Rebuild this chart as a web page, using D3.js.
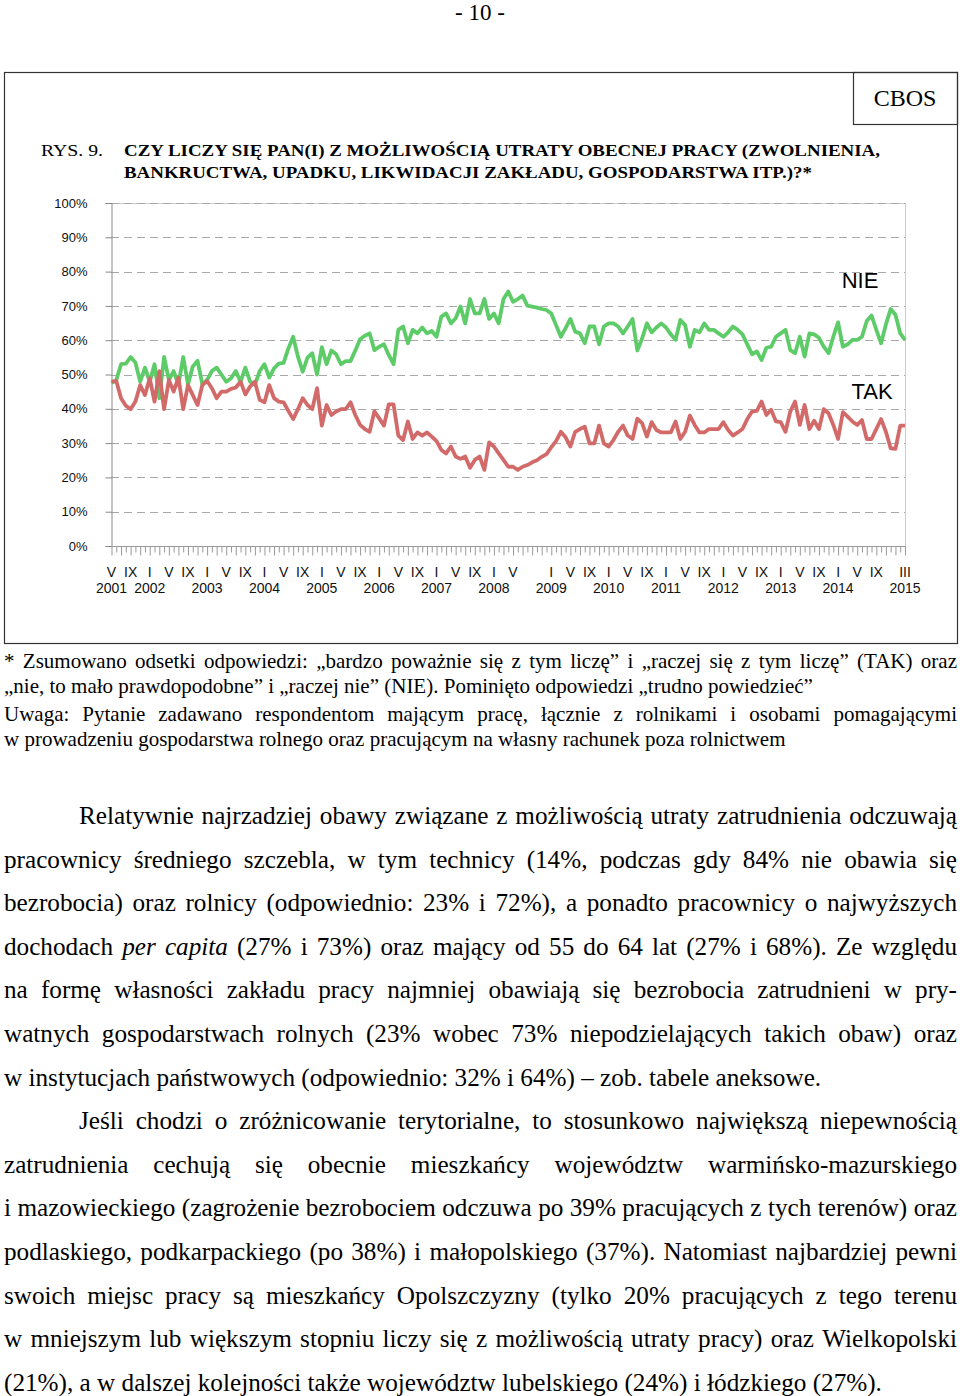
<!DOCTYPE html>
<html><head><meta charset="utf-8">
<script src="https://cdn.jsdelivr.net/npm/d3@7"></script>
<style>
html,body{margin:0;padding:0;background:#fff;}
svg{display:block;}
</style></head>
<body>
<svg id="page" width="960" height="1396"></svg>
<script>
// ---------- DATA ----------
const startYear = 2001, startMonth = 5; // first survey: V 2001
const nie = [47.5,48.4,53.0,53.2,55.1,53.5,47.9,52.0,47.9,53.0,43.1,55.1,48.4,51.0,47.0,55.1,47.1,52.3,54.0,47.1,
48.4,51.0,52.0,50.0,47.9,48.9,51.0,47.9,52.0,47.9,47.0,51.0,53.0,49.1,51.8,53.2,53.4,57.6,61.0,55.2,
50.8,54.9,56.2,50.0,58.0,53.0,57.0,55.9,53.0,53.9,53.9,57.0,60.3,61.3,62.0,57.1,58.1,58.8,55.7,53.0,
63.0,64.0,59.1,63.0,62.0,63.7,62.0,62.7,61.0,66.9,67.8,64.9,66.4,69.8,64.9,72.0,67.8,67.8,72.0,66.2,
67.8,64.9,72.0,74.2,71.2,72.0,73.0,70.1,69.8,69.5,69.1,68.8,67.8,64.4,61.0,63.5,66.2,62.5,62.0,59.1,
64.0,64.0,58.8,64.0,64.9,64.9,64.0,62.0,64.0,66.2,57.0,60.5,64.9,62.3,63.7,64.9,63.7,61.7,60.1,65.9,
64.4,58.1,63.0,62.3,64.9,63.0,63.0,62.0,61.0,62.3,64.0,63.0,61.7,58.8,55.9,56.7,54.2,57.8,58.1,61.0,
62.0,63.0,57.1,56.2,61.0,55.2,62.0,61.7,60.7,58.1,56.2,61.0,65.2,58.1,58.8,60.1,60.1,61.0,65.6,67.2,
63.0,59.1,64.6,69.1,67.4,62.0,60.1];
const tak = [47.9,48.1,43.1,40.9,39.9,42.1,46.9,44.0,48.9,42.1,51.0,39.9,48.4,45.0,49.1,39.9,46.9,44.0,41.1,46.9,
48.1,46.0,43.1,45.0,45.0,45.8,46.2,47.9,44.2,46.5,47.9,42.6,41.9,46.9,43.1,42.1,41.9,39.4,37.0,39.9,
43.1,41.1,39.9,46.0,35.1,41.1,38.2,39.2,39.9,39.9,41.9,38.2,35.3,34.1,33.3,39.3,37.2,35.1,41.3,41.3,
32.2,30.9,36.3,31.2,33.1,32.2,33.1,31.9,30.6,28.0,27.0,29.0,26.1,25.4,26.1,22.8,25.1,26.1,22.2,30.2,
29.0,27.0,25.1,23.1,23.1,22.2,23.1,23.6,24.4,25.0,26.0,26.8,28.8,30.6,33.3,31.7,29.0,33.3,34.1,34.8,
29.9,29.9,35.1,29.9,29.0,30.9,33.3,35.1,32.2,31.2,37.1,35.8,31.9,36.1,33.8,33.1,33.1,33.1,36.3,31.2,
33.3,38.0,35.3,33.1,33.1,34.1,34.1,34.1,36.1,33.8,32.2,33.1,34.1,37.0,39.2,39.4,42.1,38.2,39.7,36.3,
36.1,33.3,39.2,42.1,35.3,41.1,34.1,36.5,34.1,39.9,38.7,35.3,31.2,39.0,37.7,36.3,35.3,36.7,31.2,31.2,
34.1,37.0,33.3,28.5,28.3,35.1,35.1];
// month labels (index = months since V 2001)
const monthLabels = [[0,"V"],[4,"IX"],[8,"I"],[12,"V"],[16,"IX"],[20,"I"],[24,"V"],[28,"IX"],[32,"I"],[36,"V"],[40,"IX"],
[44,"I"],[48,"V"],[52,"IX"],[56,"I"],[60,"V"],[64,"IX"],[68,"I"],[72,"V"],[76,"IX"],[80,"I"],[84,"V"],
[92,"I"],[96,"V"],[100,"IX"],[104,"I"],[108,"V"],[112,"IX"],[116,"I"],[120,"V"],[124,"IX"],[128,"I"],[132,"V"],[136,"IX"],
[140,"I"],[144,"V"],[148,"IX"],[152,"I"],[156,"V"],[160,"IX"],[166,"III"]];
const yearLabels = [[0,"2001"],[8,"2002"],[20,"2003"],[32,"2004"],[44,"2005"],[56,"2006"],[68,"2007"],[80,"2008"],
[92,"2009"],[104,"2010"],[116,"2011"],[128,"2012"],[140,"2013"],[152,"2014"],[166,"2015"]];
const yTicks = [0,10,20,30,40,50,60,70,80,90,100];

const titleLines = ["CZY LICZY SIĘ PAN(I) Z MOŻLIWOŚCIĄ UTRATY OBECNEJ PRACY (ZWOLNIENIA,",
"BANKRUCTWA, UPADKU, LIKWIDACJI ZAKŁADU, GOSPODARSTWA ITP.)?*"];
const footLines = [
 ["* Zsumowano odsetki odpowiedzi: „bardzo poważnie się z tym liczę” i „raczej się z tym liczę” (TAK) oraz", true],
 ["„nie, to mało prawdopodobne” i „raczej nie” (NIE). Pominięto odpowiedzi „trudno powiedzieć”", false],
 ["Uwaga: Pytanie zadawano respondentom mającym pracę, łącznie z rolnikami i osobami pomagającymi", true],
 ["w prowadzeniu gospodarstwa rolnego oraz pracującym na własny rachunek poza rolnictwem", false]];
const bodyLines = [
 ["Relatywnie najrzadziej obawy związane z możliwością utraty zatrudnienia odczuwają", true, true],
 ["pracownicy średniego szczebla, w tym technicy (14%, podczas gdy 84% nie obawia się", true, false],
 ["bezrobocia) oraz rolnicy (odpowiednio: 23% i 72%), a ponadto pracownicy o najwyższych", true, false],
 ["dochodach ~per ~capita (27% i 73%) oraz mający od 55 do 64 lat (27% i 68%). Ze względu", true, false],
 ["na formę własności zakładu pracy najmniej obawiają się bezrobocia zatrudnieni w pry-", true, false],
 ["watnych gospodarstwach rolnych (23% wobec 73% niepodzielających takich obaw) oraz", true, false],
 ["w instytucjach państwowych (odpowiednio: 32% i 64%) – zob. tabele aneksowe.", false, false],
 ["Jeśli chodzi o zróżnicowanie terytorialne, to stosunkowo największą niepewnością", true, true],
 ["zatrudnienia cechują się obecnie mieszkańcy województw warmińsko-mazurskiego", true, false],
 ["i mazowieckiego (zagrożenie bezrobociem odczuwa po 39% pracujących z tych terenów) oraz", true, false],
 ["podlaskiego, podkarpackiego (po 38%) i małopolskiego (37%). Natomiast najbardziej pewni", true, false],
 ["swoich miejsc pracy są mieszkańcy Opolszczyzny (tylko 20% pracujących z tego terenu", true, false],
 ["w mniejszym lub większym stopniu liczy się z możliwością utraty pracy) oraz Wielkopolski", true, false],
 ["(21%), a w dalszej kolejności także województw lubelskiego (24%) i łódzkiego (27%).", false, false]];

// ---------- DRAW ----------
const svg = d3.select("#page");
const SERIF = "'Liberation Serif','Times New Roman',serif";
const SANS = "'Liberation Sans',Arial,sans-serif";

svg.append("text").attr("x",480).attr("y",20).attr("text-anchor","middle")
  .style("font-family",SERIF).style("font-size","23px").text("- 10 -");

// frame
svg.append("rect").attr("x",4.5).attr("y",72.5).attr("width",953).attr("height",571)
  .attr("fill","none").attr("stroke","#333").attr("stroke-width",1.2);
svg.append("rect").attr("x",853.5).attr("y",72.5).attr("width",104).attr("height",52)
  .attr("fill","none").attr("stroke","#333").attr("stroke-width",1.2);
svg.append("text").attr("x",905).attr("y",106).attr("text-anchor","middle")
  .style("font-family",SERIF).style("font-size","24px").text("CBOS");

svg.append("text").attr("x",41).attr("y",156).style("font-family",SERIF).style("font-size","17px")
  .attr("textLength",62).attr("lengthAdjust","spacingAndGlyphs").text("RYS. 9.");
svg.append("text").attr("x",124).attr("y",156).style("font-family",SERIF).style("font-size","17px")
  .style("font-weight","bold").attr("textLength",756).attr("lengthAdjust","spacingAndGlyphs").text(titleLines[0]);
svg.append("text").attr("x",124).attr("y",178).style("font-family",SERIF).style("font-size","17px")
  .style("font-weight","bold").attr("textLength",688).attr("lengthAdjust","spacingAndGlyphs").text(titleLines[1]);

// chart
const x = d3.scaleLinear().domain([0,166]).range([111.5,905]);
const y = d3.scaleLinear().domain([0,100]).range([546,203]);
const chart = svg.append("g");

// plot border (light)
chart.append("line").attr("x1",111).attr("x2",905.5).attr("y1",203.5).attr("y2",203.5).attr("stroke","#ccc");
chart.append("line").attr("x1",905.5).attr("x2",905.5).attr("y1",203).attr("y2",546).attr("stroke","#ccc");

chart.selectAll("line.grid").data(yTicks.filter(d=>d>0)).enter().append("line")
  .attr("class","grid").attr("x1",111).attr("x2",905).attr("y1",d=>Math.round(y(d))+0.5).attr("y2",d=>Math.round(y(d))+0.5)
  .attr("stroke","#a8a8a8").attr("stroke-dasharray","8,5").attr("stroke-width",1);

const yAxis = d3.axisLeft(y).tickValues(yTicks).tickFormat(d=>d+"%").tickSize(6).tickPadding(18);
const ya = chart.append("g").attr("transform","translate(111.5,0)").call(yAxis);
ya.select(".domain").attr("stroke","#888");
ya.selectAll(".tick line").attr("stroke","#888");
ya.selectAll(".tick text").style("font-family",SANS).style("font-size","13px").attr("fill","#111");

const xa = chart.append("g").attr("transform","translate(0,546.5)")
  .call(d3.axisBottom(x).tickValues(d3.range(0,167)).tickSize(7).tickFormat(""));
xa.select(".domain").attr("stroke","#999").attr("d","M111.5,0H905.5");
xa.selectAll(".tick line").attr("stroke","#999").attr("y2",(d)=>d%2===0?9:6);

chart.selectAll("text.mlab").data(monthLabels).enter().append("text").attr("class","mlab")
  .attr("x",d=>x(d[0])).attr("y",577).attr("text-anchor","middle")
  .style("font-family",SANS).style("font-size","14px").attr("fill","#111").text(d=>d[1]);
chart.selectAll("text.ylab").data(yearLabels).enter().append("text").attr("class","ylab")
  .attr("x",d=>x(d[0])).attr("y",593).attr("text-anchor","middle")
  .style("font-family",SANS).style("font-size","14px").attr("fill","#111").text(d=>d[1]);

const line = d3.line().x((d,i)=>x(i)).y(d=>y(d));
chart.append("path").datum(nie).attr("d",line).attr("fill","none")
  .attr("stroke","#5dcb68").attr("stroke-width",3.8).attr("stroke-linejoin","round");
chart.append("path").datum(tak).attr("d",line).attr("fill","none")
  .attr("stroke","#d36a6a").attr("stroke-width",3.8).attr("stroke-linejoin","round");

chart.append("text").attr("x",860).attr("y",288).attr("text-anchor","middle")
  .style("font-family",SANS).style("font-size","22px").text("NIE");
chart.append("text").attr("x",872).attr("y",399).attr("text-anchor","middle")
  .style("font-family",SANS).style("font-size","22px").text("TAK");

// ---------- TEXT WITH JUSTIFICATION ----------
function drawLine(str, x0, x1, yb, fs, justify){
  const words = str.split(" ");
  const g = svg.append("g");
  const nodes = words.map(w=>{
    const it = w.startsWith("~");
    const t = g.append("text").attr("y",yb).style("font-family",SERIF).style("font-size",fs+"px")
      .style("font-style",it?"italic":"normal").text(it?w.slice(1):w);
    return {t, w:t.node().getComputedTextLength()};
  });
  const total = d3.sum(nodes,n=>n.w);
  const gap = (justify && nodes.length>1) ? (x1-x0-total)/(nodes.length-1) : fs*0.25;
  let cx = x0;
  nodes.forEach(n=>{ n.t.attr("x",cx); cx += n.w + gap; });
}
footLines.forEach((l,i)=>drawLine(l[0],4,957,[668,693,721,746][i],21,l[1]));
bodyLines.forEach((l,i)=>drawLine(l[0], l[2]?79:4, 957, 824+i*43.6, 25.2, l[1]));
</script>
</body></html>
